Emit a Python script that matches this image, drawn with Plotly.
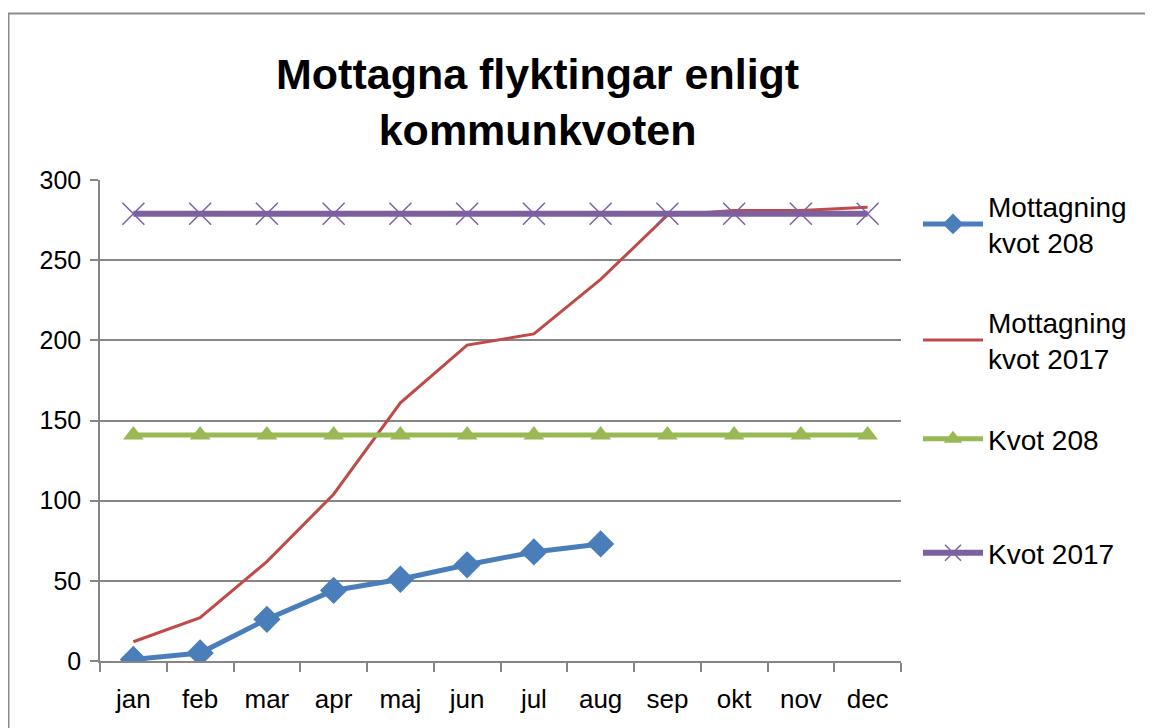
import plotly.graph_objects as go

months = ["jan", "feb", "mar", "apr", "maj", "jun", "jul", "aug", "sep", "okt", "nov", "dec"]
mottagning_208 = [1, 5, 26, 44, 51, 60, 68, 73]
mottagning_2017 = [12, 27, 62, 104, 161, 197, 204, 238, 278, 281, 281, 283]
kvot_208 = [141] * 12
kvot_2017 = [279] * 12

FONT = "Liberation Sans, Arial, sans-serif"
OFF = 8  # page body margin offset

L, R, T, B = 100, 901, 180, 661
W, H = 1153 - OFF, 728 - OFF
pw, ph = R - L, B - T


def px(x):
    return (x - L) / pw


def py(y):
    return (B - y) / ph


fig = go.Figure()
fig.add_trace(go.Scatter(x=months[:len(mottagning_208)], y=mottagning_208, name="Mottagning<br>kvot 208",
                         mode="lines+markers", line=dict(color="#4A7EBB", width=5),
                         marker=dict(symbol="diamond", size=21, color="#4A7EBB"), legend="legend"))
fig.add_trace(go.Scatter(x=months, y=mottagning_2017, name="Mottagning<br>kvot 2017",
                         mode="lines", line=dict(color="#BE4B48", width=3), legend="legend2"))
fig.add_trace(go.Scatter(x=months, y=kvot_208, name="Kvot 208",
                         mode="lines+markers", line=dict(color="#98B954", width=5),
                         marker=dict(symbol="triangle-up", size=18, color="#98B954"), legend="legend3"))
fig.add_trace(go.Scatter(x=months, y=kvot_2017, name="Kvot 2017",
                         mode="lines+markers", line=dict(color="#7D60A0", width=6),
                         marker=dict(symbol="x-thin", size=22, line=dict(color="#7D60A0", width=1.5)),
                         legend="legend4"))

leg_common = dict(x=px(918), xanchor="left", yanchor="middle",
                  font=dict(family=FONT, size=28, color="black"),
                  itemwidth=60, bgcolor="rgba(0,0,0,0)")

fig.update_layout(
    width=W, height=H,
    margin=dict(l=L - OFF, r=W - (R - OFF), t=T - OFF, b=H - (B - OFF), pad=0),
    paper_bgcolor="white", plot_bgcolor="white",
    font=dict(family=FONT, size=24, color="black"),
    showlegend=True,
    legend=dict(y=py(224), **leg_common),
    legend2=dict(y=py(340), **leg_common),
    legend3=dict(y=py(439), **leg_common),
    legend4=dict(y=py(553), **leg_common),
    annotations=[dict(text="<b>Mottagna flyktingar enligt<br>kommunkvoten</b>",
                      xref="paper", yref="paper", x=px(537), y=py(102), xanchor="center", yanchor="middle",
                      showarrow=False, font=dict(family=FONT, size=43, color="black"))],
    shapes=[dict(type="rect", xref="paper", yref="paper", x0=px(8.5), x1=px(1170), y0=py(13.5), y1=py(760),
                 line=dict(color="#8c8c8c", width=2), layer="below")],
)
fig.update_xaxes(type="category", range=[-0.5, 11.5], showgrid=False, showline=True,
                 linecolor="#868686", linewidth=1.5, ticks="outside", tickson="boundaries",
                 ticklen=9, tickcolor="#868686", tickwidth=1.5, ticklabelstandoff=14,
                 tickfont=dict(family=FONT, size=26), fixedrange=True)
fig.update_yaxes(range=[0, 300], dtick=50, showgrid=True, gridcolor="#868686", gridwidth=1.5,
                 showline=True, linecolor="#868686", linewidth=1.5, ticks="outside", ticklen=8,
                 tickcolor="#868686", tickwidth=1.5, zeroline=False, ticklabelstandoff=4,
                 tickfont=dict(family=FONT, size=25), fixedrange=True)

fig.write_html("out.html")
